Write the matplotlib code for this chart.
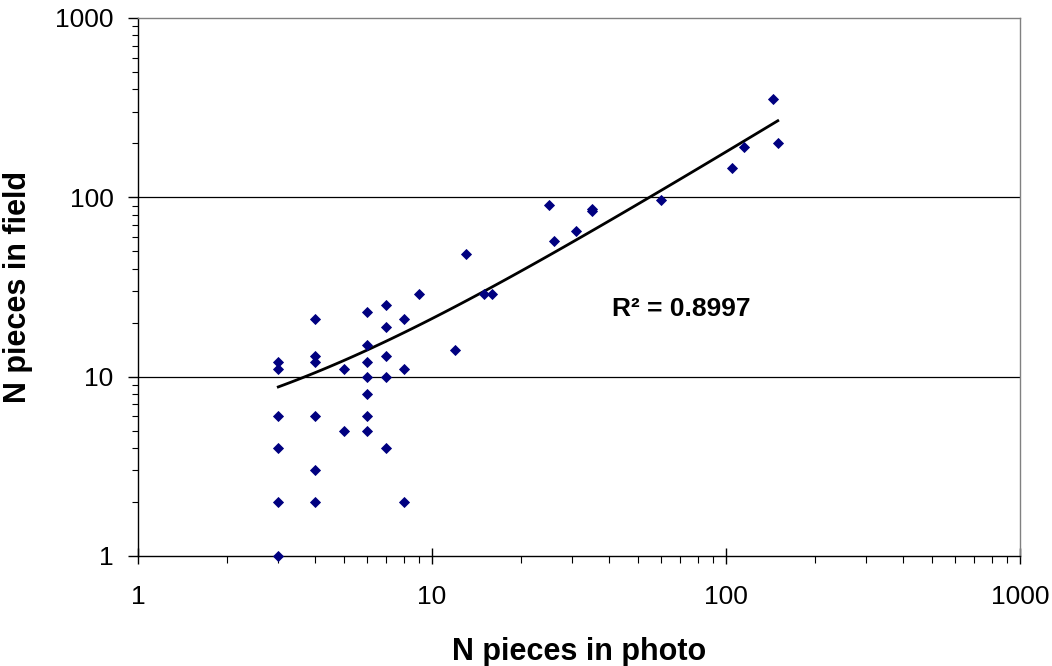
#!usr/bin/python

"""
Log-log scatter: pieces counted in photo vs pieces found in field,
with a linear trendline (Excel style) drawn on the log axes.
"""
import matplotlib.pyplot as plt
from matplotlib.ticker import LogLocator, NullFormatter, FixedLocator
import numpy as np

# DATA
photo_counts = [3, 3, 3, 3, 3, 3,
                4, 4, 4, 4, 4, 4,
                5, 5,
                6, 6, 6, 6, 6, 6, 6,
                7, 7, 7, 7, 7,
                8, 8, 8,
                9, 12, 13, 15, 16,
                25, 26, 31, 35, 35, 60,
                105, 115, 145, 150]
field_counts = [12, 11, 6, 4, 2, 1,
                21, 13, 12, 6, 3, 2,
                11, 5,
                23, 15, 12, 10, 8, 6, 5,
                25, 19, 13, 10, 4,
                21, 11, 2,
                29, 14, 48, 29, 29,
                91, 57, 65, 84, 86, 96,
                145, 192, 355, 202]
r2_label = 'R\u00b2 = 0.8997'
axis_ticks = [1, 10, 100, 1000]

FONT = 'Liberation Sans'
MARKER_COLOUR = '#000080'


def main():
    fig = plt.figure(figsize=(10.52, 6.66), dpi=100)
    ax = fig.add_axes([0.1312, 0.1652, 0.8384, 0.8078])

    ax.set_xscale('log')
    ax.set_yscale('log')
    ax.set_xlim(1, 1000)
    ax.set_ylim(1, 1000)

    # horizontal gridlines at 10 and 100
    for val in axis_ticks[1:-1]:
        ax.axhline(val, color='black', lw=0.9, zorder=1)

    # linear trendline y = a*x + b, curved on log axes
    slope, icpt = np.polyfit(photo_counts, field_counts, 1)
    x_fit = np.logspace(np.log10(min(photo_counts)),
                        np.log10(max(photo_counts)), 80)
    y_fit = slope * x_fit + icpt
    ax.plot(x_fit, y_fit, color='black', lw=2.0, zorder=2)

    ax.plot(photo_counts, field_counts, linestyle='none', marker='D',
            markersize=4.6, color=MARKER_COLOUR, mec=MARKER_COLOUR, mew=0.6,
            zorder=3, clip_on=False)

    ax.text(0.537, 0.446, r2_label, transform=ax.transAxes,
            fontsize=19, fontweight='bold', family=FONT, va='baseline')

    # spines
    for side in ('top', 'right'):
        ax.spines[side].set_color('#808080')
        ax.spines[side].set_linewidth(1.0)
    for side in ('left', 'bottom'):
        ax.spines[side].set_color('black')
        ax.spines[side].set_linewidth(1.0)

    # ticks
    ax.xaxis.set_major_locator(FixedLocator(axis_ticks))
    ax.yaxis.set_major_locator(FixedLocator(axis_ticks))
    ax.xaxis.set_minor_locator(LogLocator(base=10, subs=np.arange(2, 10)))
    ax.yaxis.set_minor_locator(LogLocator(base=10, subs=np.arange(2, 10)))
    ax.xaxis.set_minor_formatter(NullFormatter())
    ax.yaxis.set_minor_formatter(NullFormatter())
    ax.set_xticklabels([str(v) for v in axis_ticks])
    ax.set_yticklabels([str(v) for v in axis_ticks])

    ax.tick_params(axis='x', which='major', direction='inout', length=11.5,
                   width=1.0, pad=15, labelsize=19)
    ax.tick_params(axis='x', which='minor', direction='out', length=5,
                   width=0.8)
    ax.tick_params(axis='y', which='major', direction='out', length=7.5,
                   width=1.0, pad=10, labelsize=19)
    ax.tick_params(axis='y', which='minor', direction='out', length=4.5,
                   width=0.8)
    for lbl in ax.get_xticklabels() + ax.get_yticklabels():
        lbl.set_family(FONT)

    ax.set_xlabel('N pieces in photo', fontsize=22, fontweight='bold',
                  family=FONT, labelpad=20)
    ax.set_ylabel('N pieces in field', fontsize=22, fontweight='bold',
                  family=FONT)
    ax.yaxis.set_label_coords(-0.119, 0.5)

    plt.savefig('out.png', dpi=100)


if __name__ == '__main__':
    main()
